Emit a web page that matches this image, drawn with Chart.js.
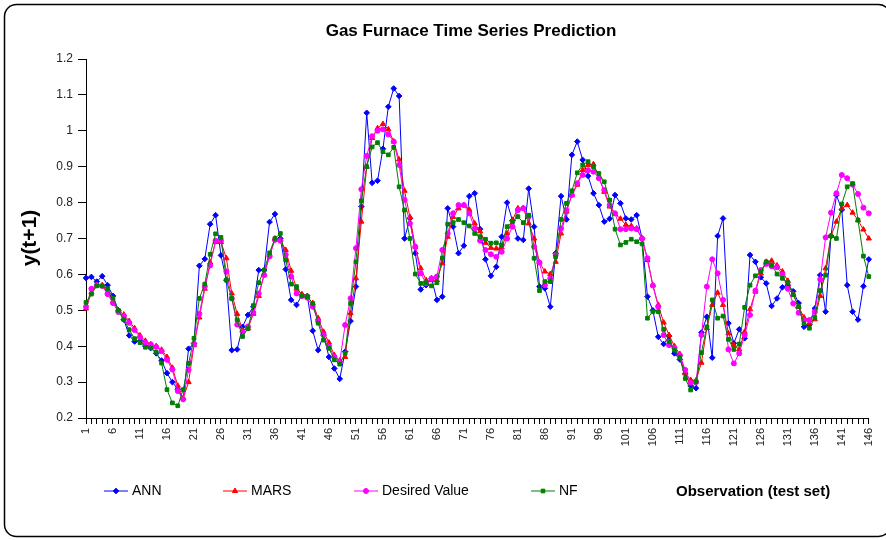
<!DOCTYPE html>
<html>
<head>
<meta charset="utf-8">
<script src="https://cdn.jsdelivr.net/npm/chart.js@4.4.0/dist/chart.umd.min.js"></script>
<style>
  html, body { margin: 0; padding: 0; background: #fff; }
  #wrap { width: 886px; height: 540px; }
</style>
</head>
<body>
<div id="wrap"><canvas id="chart" width="886" height="540"></canvas></div>
<script>
// observation index 1..146 (test set)
const observations = Array.from({length: 146}, (_, i) => String(i + 1));

const ann = [
  0.59, 0.593, 0.58, 0.595, 0.57, 0.54, 0.50, 0.474, 0.43, 0.413,
  0.415, 0.40, 0.395, 0.38, 0.36, 0.325, 0.30, 0.28, 0.253, 0.393,
  0.408, 0.624, 0.643, 0.74, 0.765, 0.653, 0.584, 0.389, 0.391, 0.454,
  0.487, 0.51, 0.612, 0.612, 0.746, 0.768, 0.70, 0.614, 0.529, 0.515,
  0.543, 0.54, 0.443, 0.389, 0.431, 0.37, 0.338, 0.309, 0.385, 0.47,
  0.566, 0.789, 1.05, 0.855, 0.861, 0.95, 1.067, 1.118, 1.097, 0.70,
  0.756, 0.659, 0.558, 0.57, 0.589, 0.529, 0.538, 0.784, 0.733, 0.659,
  0.68, 0.818, 0.826, 0.726, 0.642, 0.596, 0.621, 0.705, 0.80, 0.75,
  0.70, 0.696, 0.839, 0.733, 0.566, 0.561, 0.51, 0.659, 0.818, 0.753,
  0.933, 0.97, 0.919, 0.874, 0.826, 0.793, 0.747, 0.755, 0.821, 0.798,
  0.756, 0.753, 0.765, 0.70, 0.538, 0.50, 0.426, 0.406, 0.428, 0.38,
  0.363, 0.324, 0.289, 0.283, 0.438, 0.482, 0.368, 0.707, 0.756, 0.464,
  0.408, 0.447, 0.422, 0.654, 0.635, 0.592, 0.575, 0.512, 0.533, 0.564,
  0.57, 0.553, 0.52, 0.454, 0.46, 0.505, 0.598, 0.496, 0.707, 0.821,
  0.78, 0.57, 0.496, 0.474, 0.567, 0.642
];

const mars = [
  0.505, 0.55, 0.57, 0.57, 0.55, 0.525, 0.50, 0.488, 0.47, 0.45,
  0.43, 0.415, 0.405, 0.40, 0.39, 0.37, 0.34, 0.29, 0.255, 0.30,
  0.403, 0.48, 0.56, 0.633, 0.69, 0.69, 0.645, 0.547, 0.49, 0.445,
  0.45, 0.49, 0.54, 0.60, 0.655, 0.70, 0.696, 0.668, 0.61, 0.56,
  0.545, 0.538, 0.52, 0.478, 0.44, 0.41, 0.375, 0.36, 0.37, 0.492,
  0.589, 0.747, 0.90, 0.98, 1.007, 1.019, 1.004, 0.97, 0.92, 0.833,
  0.76, 0.677, 0.617, 0.584, 0.584, 0.584, 0.631, 0.705, 0.76, 0.784,
  0.793, 0.78, 0.742, 0.72, 0.688, 0.674, 0.672, 0.675, 0.714, 0.752,
  0.784, 0.785, 0.742, 0.70, 0.633, 0.608, 0.601, 0.635, 0.714, 0.775,
  0.821, 0.85, 0.891, 0.905, 0.907, 0.87, 0.83, 0.789, 0.768, 0.755,
  0.738, 0.735, 0.728, 0.70, 0.64, 0.57, 0.515, 0.466, 0.431, 0.40,
  0.378, 0.324, 0.306, 0.305, 0.354, 0.45, 0.515, 0.549, 0.515, 0.436,
  0.403, 0.391, 0.44, 0.503, 0.552, 0.603, 0.635, 0.638, 0.625, 0.608,
  0.582, 0.545, 0.51, 0.48, 0.464, 0.475, 0.54, 0.617, 0.707, 0.747,
  0.784, 0.793, 0.772, 0.751, 0.725, 0.70
];

const desired = [
  0.51, 0.56, 0.57, 0.568, 0.545, 0.52, 0.495, 0.485, 0.465, 0.445,
  0.425, 0.41, 0.405, 0.398, 0.386, 0.362, 0.335, 0.275, 0.252, 0.334,
  0.405, 0.49, 0.566, 0.625, 0.694, 0.694, 0.608, 0.533, 0.46, 0.44,
  0.455, 0.493, 0.547, 0.598, 0.65, 0.696, 0.694, 0.655, 0.594, 0.547,
  0.54, 0.535, 0.51, 0.47, 0.431, 0.40, 0.37, 0.357, 0.459, 0.533,
  0.673, 0.837, 0.93, 0.985, 1.0, 1.004, 0.99, 0.97, 0.905, 0.807,
  0.742, 0.677, 0.603, 0.575, 0.589, 0.594, 0.668, 0.714, 0.77, 0.793,
  0.793, 0.77, 0.728, 0.694, 0.668, 0.656, 0.649, 0.663, 0.70, 0.733,
  0.779, 0.784, 0.761, 0.677, 0.633, 0.57, 0.589, 0.654, 0.728, 0.779,
  0.821, 0.854, 0.877, 0.89, 0.886, 0.868, 0.835, 0.793, 0.77, 0.726,
  0.726, 0.728, 0.726, 0.70, 0.645, 0.569, 0.51, 0.431, 0.403, 0.395,
  0.375, 0.334, 0.298, 0.30, 0.431, 0.566, 0.642, 0.603, 0.529, 0.391,
  0.352, 0.38, 0.431, 0.487, 0.555, 0.612, 0.629, 0.623, 0.62, 0.60,
  0.56, 0.519, 0.493, 0.473, 0.473, 0.496, 0.586, 0.703, 0.772, 0.826,
  0.877, 0.868, 0.85, 0.824, 0.786, 0.77
];

const nf = [
  0.522, 0.545, 0.568, 0.568, 0.56, 0.534, 0.50, 0.474, 0.446, 0.421,
  0.41, 0.397, 0.395, 0.383, 0.353, 0.279, 0.242, 0.234, 0.279, 0.352,
  0.422, 0.533, 0.573, 0.656, 0.713, 0.703, 0.584, 0.533, 0.473, 0.427,
  0.449, 0.513, 0.577, 0.612, 0.66, 0.70, 0.714, 0.64, 0.573, 0.566,
  0.54, 0.538, 0.519, 0.464, 0.417, 0.394, 0.362, 0.35, 0.38, 0.519,
  0.635, 0.805, 0.90, 0.955, 0.967, 0.942, 0.933, 0.954, 0.844, 0.779,
  0.70, 0.601, 0.575, 0.577, 0.568, 0.577, 0.645, 0.74, 0.744, 0.753,
  0.744, 0.735, 0.714, 0.705, 0.698, 0.687, 0.688, 0.682, 0.733, 0.747,
  0.761, 0.744, 0.765, 0.645, 0.555, 0.58, 0.58, 0.649, 0.753, 0.798,
  0.833, 0.883, 0.905, 0.914, 0.90, 0.881, 0.858, 0.807, 0.726, 0.682,
  0.689, 0.698, 0.691, 0.685, 0.478, 0.496, 0.496, 0.447, 0.413, 0.389,
  0.369, 0.31, 0.278, 0.301, 0.382, 0.454, 0.529, 0.478, 0.484, 0.419,
  0.391, 0.406, 0.508, 0.57, 0.596, 0.608, 0.635, 0.626, 0.601, 0.589,
  0.577, 0.543, 0.51, 0.464, 0.45, 0.48, 0.555, 0.598, 0.707, 0.70,
  0.796, 0.844, 0.853, 0.751, 0.651, 0.594
];

const FONT = '"Liberation Sans", Arial, sans-serif';

const series = [
  {label: 'ANN', data: ann, color: '#0000ff', style: 'rectRot', r: 2.8, order: 4},
  {label: 'MARS', data: mars, color: '#ff0000', style: 'triangle', r: 3, order: 3},
  {label: 'Desired Value', data: desired, color: '#ff00ff', style: 'circle', r: 2.5, order: 2},
  {label: 'NF', data: nf, color: '#008000', style: 'rect', r: 2.6, order: 1}
];

// where each legend entry starts
const legendX = [104, 223, 354, 531];

const decor = {
  id: 'decor',
  beforeDraw(chart) {
    const c = chart.ctx;
    c.save();
    c.fillStyle = '#fff';
    c.fillRect(0, 0, chart.width, chart.height);
    c.restore();
  },
  afterDraw(chart) {
    const c = chart.ctx;
    c.save();
    // chart frame (right edge runs off the picture)
    c.strokeStyle = '#000';
    c.lineWidth = 1.5;
    c.beginPath();
    c.roundRect(4.5, 4.5, 886, 532, 12);
    c.stroke();

    c.fillStyle = '#000';
    c.textBaseline = 'middle';
    c.textAlign = 'center';
    c.font = 'bold 17px ' + FONT;
    c.fillText('Gas Furnace Time Series Prediction', 471, 31);

    c.save();
    c.translate(30, 238);
    c.rotate(-Math.PI / 2);
    c.font = 'bold 21px ' + FONT;
    c.fillText('y(t+1)', 0, 0);
    c.restore();

    c.textAlign = 'left';
    c.font = 'bold 15px ' + FONT;
    c.fillText('Observation (test set)', 676, 492);

    // legend
    c.font = '14px ' + FONT;
    series.forEach((s, i) => {
      const x = legendX[i], y = 491;
      c.strokeStyle = s.color;
      c.fillStyle = s.color;
      c.lineWidth = 1;
      c.beginPath();
      c.moveTo(x, y);
      c.lineTo(x + 24, y);
      c.stroke();
      Chart.helpers.drawPoint(c, {pointStyle: s.style, radius: s.r, rotation: 0, borderWidth: 1}, x + 12, y);
      c.fillStyle = '#000';
      c.fillText(s.label, x + 28, y);
    });
    c.restore();
  }
};

new Chart(document.getElementById('chart'), {
  type: 'line',
  data: {
    labels: observations,
    datasets: series.map(s => ({
      label: s.label,
      data: s.data,
      order: s.order,
      borderColor: s.color,
      backgroundColor: s.color,
      borderWidth: 1,
      pointStyle: s.style,
      pointRadius: s.r,
      pointBorderWidth: 1,
      pointHoverRadius: s.r,
      tension: 0,
      fill: false
    }))
  },
  options: {
    responsive: false,
    animation: false,
    devicePixelRatio: 1,
    layout: {padding: {left: 0, right: 8, top: 59, bottom: 92}},
    plugins: {
      legend: {display: false},
      title: {display: false},
      tooltip: {enabled: false}
    },
    scales: {
      x: {
        type: 'category',
        offset: false,
        afterFit(scale) { scale.height = 30; },
        border: {display: true, color: '#000', width: 1},
        grid: {drawOnChartArea: false, drawTicks: true, tickLength: 6, color: '#000'},
        ticks: {
          autoSkip: false,
          minRotation: 90,
          maxRotation: 90,
          padding: 4,
          color: '#222',
          font: {family: FONT, size: 11},
          callback(val, idx) { return idx % 5 === 0 ? this.getLabelForValue(val) : ''; }
        }
      },
      y: {
        min: 0.2,
        max: 1.2,
        afterFit(scale) { scale.width = 86; },
        border: {display: true, color: '#000', width: 1},
        grid: {drawOnChartArea: false, drawTicks: true, tickLength: 8, color: '#000'},
        ticks: {
          stepSize: 0.1,
          padding: 5,
          color: '#222',
          font: {family: FONT, size: 12},
          callback: v => String(Math.round(v * 10) / 10)
        }
      }
    }
  },
  plugins: [decor]
});
</script>
</body>
</html>
